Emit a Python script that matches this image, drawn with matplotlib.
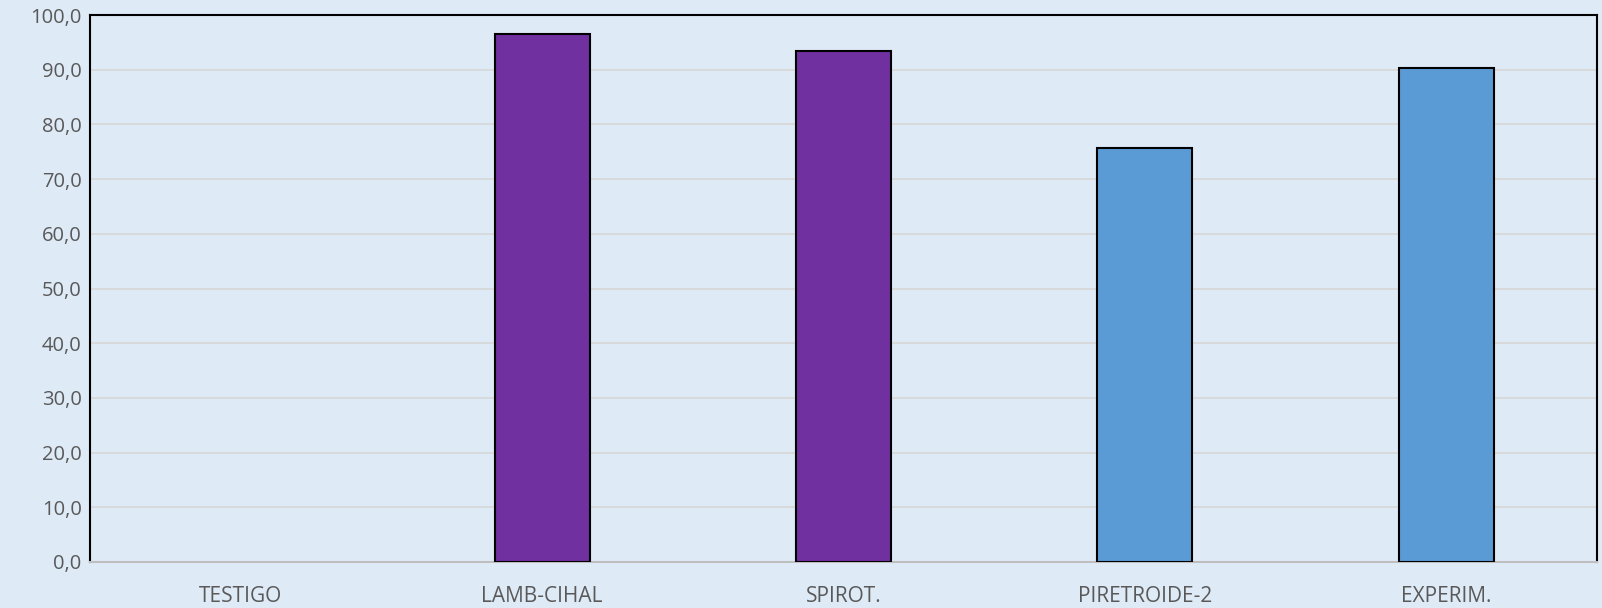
import matplotlib
matplotlib.use("Agg")
import matplotlib.pyplot as plt
from matplotlib.ticker import FuncFormatter, MultipleLocator

categories = ["TESTIGO", "LAMB-CIHAL", "SPIROT.", "PIRETROIDE-2", "EXPERIM."]
values = [0.0, 96.6, 93.5, 75.7, 90.3]
colors = ["#7030A0", "#7030A0", "#7030A0", "#5B9BD5", "#5B9BD5"]

plt.rcParams['font.family'] = ['Open Sans', 'DejaVu Sans']
bg = "#DEEAF6"
fig = plt.figure(figsize=(16.02, 6.08), dpi=100, facecolor=bg)
ax = fig.add_axes([90/1602, 1 - 562/608, (1597-90)/1602, (562-15)/608])
ax.set_facecolor(bg)
x = list(range(len(categories)))
lws = [1.5 if v > 0 else 0 for v in values]
ax.bar(x, values, width=0.315, color=colors, edgecolor="black", linewidth=lws, zorder=3)
ax.set_xlim(-0.5, len(categories) - 0.5)
ax.set_ylim(0, 100)
ax.yaxis.set_major_locator(MultipleLocator(10))
ax.yaxis.set_major_formatter(FuncFormatter(lambda v, p: f"{v:.1f}".replace(".", ",")))
ax.set_xticks(x)
ax.set_xticklabels(categories)
ax.grid(axis="y", color="#D6D6D6", linewidth=1.2, zorder=0)
ax.tick_params(axis="both", length=0, labelsize=14.5, colors="#595959")
ax.tick_params(axis="y", pad=6)
ax.tick_params(axis="x", pad=17, labelsize=15)
for s in ["top", "left", "right"]:
    ax.spines[s].set_color("black")
    ax.spines[s].set_linewidth(1.5)
ax.spines["bottom"].set_color("#BFBFBF")
ax.spines["bottom"].set_linewidth(1.5)
fig.savefig("out.png", dpi=100, facecolor=bg)
